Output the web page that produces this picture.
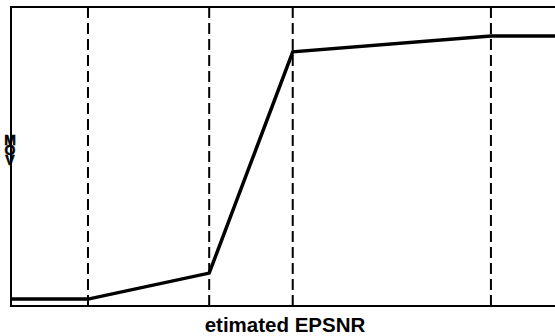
<!DOCTYPE html>
<html>
<head>
<meta charset="utf-8">
<script src="https://cdn.jsdelivr.net/npm/d3@7"></script>
<style>
  body { margin: 0; background: #fff; }
  svg { display: block; }
</style>
</head>
<body>
<div id="chart"></div>
<script>
// estimated EPSNR -> MOV mapping (piecewise linear)
const epsnr = [0, 14.1, 36.3, 51.6, 87.9, 100];
const mov = [2.3, 2.3, 11, 85, 90.3, 90.3];
const breakpoints = [14.1, 36.3, 51.6, 87.9];
const xLabel = "etimated EPSNR";
const yLabel = "MOV";

const width = 555;
const height = 336;
const margin = { top: 7, right: -2, bottom: 30, left: 11 };

const svg = d3
  .select("#chart")
  .append("svg")
  .attr("width", width)
  .attr("height", height);

const x = d3
  .scaleLinear()
  .domain([0, 100])
  .range([margin.left, width - margin.right]);

const y = d3
  .scaleLinear()
  .domain([0, 100])
  .range([height - margin.bottom, margin.top]);

// frame
svg
  .append("rect")
  .attr("x", x(0))
  .attr("y", y(100))
  .attr("width", x(100) - x(0))
  .attr("height", y(0) - y(100))
  .attr("fill", "none")
  .attr("stroke", "#000")
  .attr("stroke-width", 2);

// dashed breakpoints
svg
  .selectAll(".brk")
  .data(breakpoints)
  .enter()
  .append("line")
  .attr("class", "brk")
  .attr("x1", (d) => x(d))
  .attr("x2", (d) => x(d))
  .attr("y1", y(100))
  .attr("y2", y(0))
  .attr("stroke", "#000")
  .attr("stroke-width", 2)
  .attr("stroke-dasharray", "11,5");

// curve
const line = d3
  .line()
  .x((d, i) => x(epsnr[i]))
  .y((d) => y(d));

svg
  .append("path")
  .datum(mov)
  .attr("d", line)
  .attr("fill", "none")
  .attr("stroke", "#000")
  .attr("stroke-width", 3.5)
  .attr("stroke-linejoin", "miter");

// x label
svg
  .append("text")
  .attr("x", 285)
  .attr("y", 332)
  .attr("text-anchor", "middle")
  .style("font-family", "Liberation Sans, Arial, sans-serif")
  .style("font-weight", "bold")
  .style("font-size", "20.5px")
  .text(xLabel);

// y label, letters stacked (one text element)
const yText = svg
  .append("text")
  .attr("text-anchor", "middle")
  .attr("fill", "#000")
  .attr("stroke", "#000")
  .attr("stroke-width", 0.5)
  .style("font-family", "'Liberation Sans Narrow', 'Liberation Sans', sans-serif")
  .style("font-weight", "bold")
  .style("font-size", "14px");

yText
  .selectAll("tspan")
  .data(yLabel.split(""))
  .enter()
  .append("tspan")
  .attr("x", 10)
  .attr("y", (d, i) => 145 + i * 10)
  .text((d) => d);
</script>
</body>
</html>
